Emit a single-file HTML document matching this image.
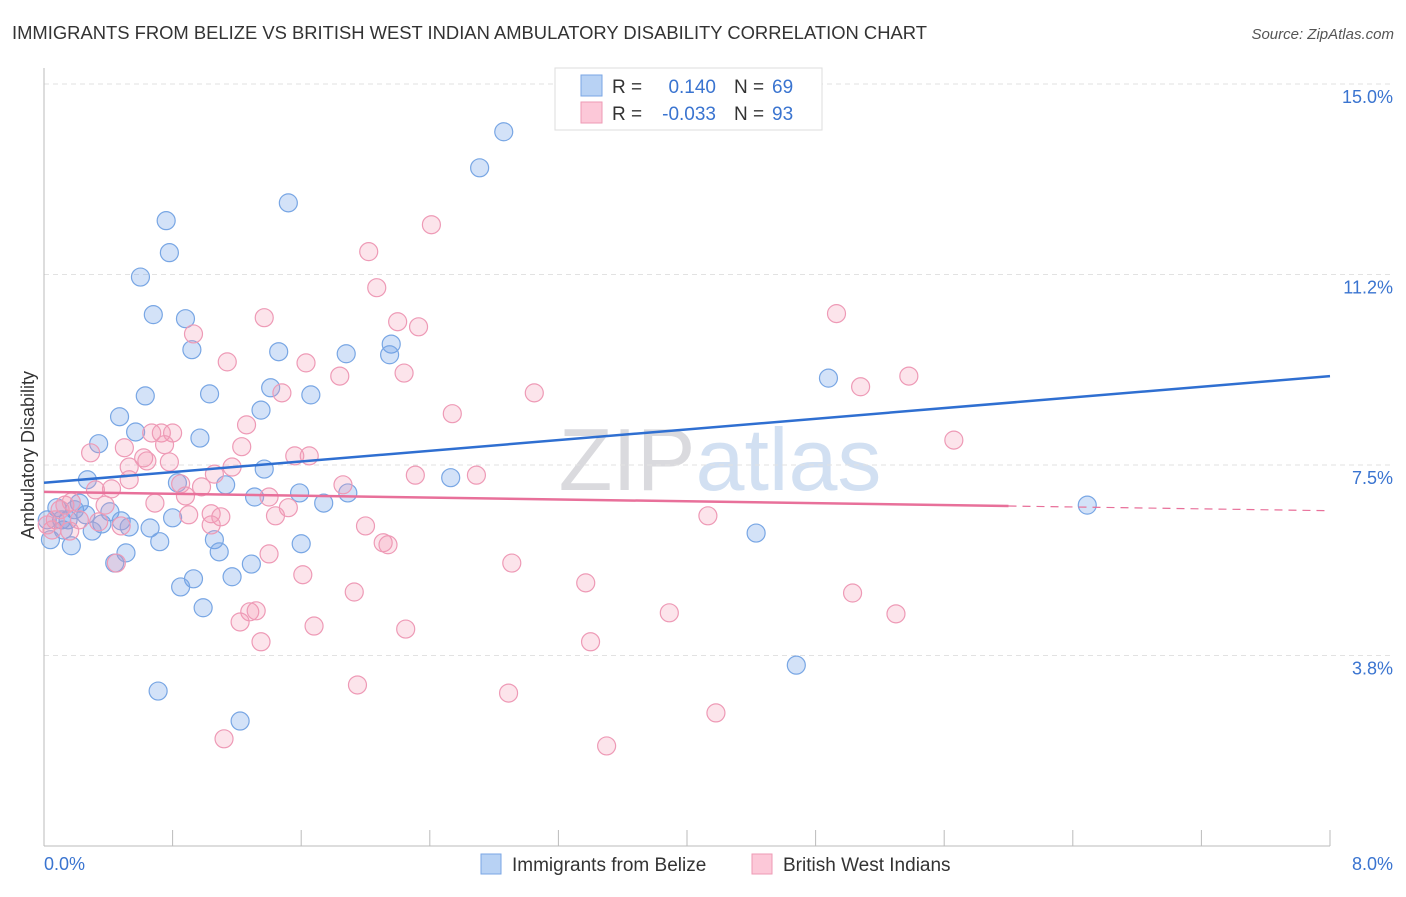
<!DOCTYPE html>
<html><head><meta charset="utf-8"><style>
body{margin:0;background:#fff;font-family:"Liberation Sans",sans-serif}
svg text{font-family:"Liberation Sans",sans-serif}
</style></head><body>
<svg id="chart" width="1406" height="892" viewBox="0 0 1406 892" xmlns="http://www.w3.org/2000/svg">
<text x="12" y="39" font-size="18.4" fill="#333">IMMIGRANTS FROM BELIZE VS BRITISH WEST INDIAN AMBULATORY DISABILITY CORRELATION CHART</text>
<text x="1394" y="39" font-size="15" fill="#555" text-anchor="end" font-style="italic">Source: ZipAtlas.com</text>
<text x="720" y="490" font-size="88" fill="#dcdce0" text-anchor="middle" font-family="Liberation Serif"><tspan fill="#dadade">ZIP</tspan><tspan fill="#d2e0f2" font-family="Liberation Sans">atlas</tspan></text>
<g id="grid"></g>
<g id="axes"></g>
<text transform="translate(34,455) rotate(-90)" font-size="18" fill="#333" text-anchor="middle">Ambulatory Disability</text>
<g id="pts"></g>
<g id="lines"></g>
<g>
<rect x="555" y="68" width="267" height="62" fill="#fff" stroke="#ddd"/>
<rect x="581" y="75" width="21" height="21" fill="#b8d2f4" stroke="#7aa6e4"/>
<rect x="581" y="102" width="21" height="21" fill="#fcc8d8" stroke="#ee9ab4"/>
<text x="612" y="93" font-size="19" fill="#333">R =</text>
<text x="716" y="93" font-size="19" fill="#3a74d0" text-anchor="end">0.140</text>
<text x="734" y="93" font-size="19" fill="#333">N =</text>
<text x="772" y="93" font-size="19" fill="#3a74d0">69</text>
<text x="612" y="120" font-size="19" fill="#333">R =</text>
<text x="716" y="120" font-size="19" fill="#3a74d0" text-anchor="end">-0.033</text>
<text x="734" y="120" font-size="19" fill="#333">N =</text>
<text x="772" y="120" font-size="19" fill="#3a74d0">93</text>
</g>
<g>
<rect x="481" y="854" width="20" height="20" fill="#b8d2f4" stroke="#7aa6e4"/>
<text x="512" y="871" font-size="19" fill="#333">Immigrants from Belize</text>
<rect x="752" y="854" width="20" height="20" fill="#fcc8d8" stroke="#ee9ab4"/>
<text x="783" y="871" font-size="19" fill="#333">British West Indians</text>
</g>
</svg>
<script>
const yTicks=[3.75,7.5,11.25,15];
const yTickLabels=["3.8%","7.5%","11.2%","15.0%"];
const xMin=0,xMax=8,yMin=0,yMax=15;
const blueX=[2.86,2.71,1.52,0.76,0.78,0.60,0.68,0.88,0.92,1.46,1.88,2.16,2.15,0.63,1.03,1.66,1.41,4.88,0.47,1.35,0.57,0.34,0.97,0.27,0.83,1.13,1.37,2.53,1.89,1.59,1.31,1.74,6.49,4.43,0.15,0.22,0.41,0.48,0.36,0.30,0.66,0.53,0.80,0.72,1.06,1.09,0.17,0.51,0.44,1.60,1.29,1.17,0.93,0.85,0.99,4.68,0.71,1.22,0.08,0.11,0.04,0.02,0.19,0.26,0.12];
const blueY=[14.06,13.35,12.66,12.31,11.68,11.20,10.46,10.38,9.77,9.73,9.69,9.88,9.67,8.86,8.90,8.88,9.02,9.21,8.45,8.58,8.15,7.92,8.03,7.21,7.15,7.11,7.42,7.25,6.95,6.95,6.87,6.75,6.71,6.16,6.42,6.75,6.58,6.40,6.34,6.20,6.26,6.28,6.46,5.99,6.03,5.79,5.91,5.77,5.57,5.95,5.55,5.30,5.26,5.10,4.69,3.56,3.05,2.46,6.66,6.42,6.03,6.42,6.62,6.52,6.22];
const pinkX=[2.41,2.02,2.07,1.37,2.20,2.33,0.93,4.93,1.14,1.63,1.84,2.24,5.38,5.08,1.48,3.05,2.54,1.26,5.66,0.67,0.73,0.80,0.50,0.75,1.23,0.29,0.62,0.64,0.53,0.78,1.17,1.56,1.65,1.06,2.31,2.69,1.86,0.53,0.85,0.98,0.42,0.32,0.88,1.40,0.17,0.38,0.69,1.52,0.90,1.04,1.10,1.44,0.22,0.34,1.04,2.00,4.13,0.48,0.16,2.11,2.14,1.40,2.91,1.61,3.37,1.93,5.03,1.28,1.32,5.30,3.89,1.22,1.68,2.25,1.35,3.40,1.95,2.89,4.18,3.50,1.12,0.45,0.10,0.07,0.05,0.02,0.13];
const pinkY=[12.23,11.70,10.99,10.40,10.32,10.22,10.08,10.48,9.53,9.51,9.25,9.31,9.25,9.04,8.92,8.92,8.51,8.29,7.99,8.13,8.13,8.13,7.84,7.90,7.86,7.74,7.64,7.58,7.46,7.56,7.46,7.68,7.68,7.32,7.30,7.30,7.11,7.21,7.13,7.07,7.03,7.01,6.89,6.87,6.77,6.71,6.75,6.66,6.52,6.54,6.48,6.50,6.42,6.38,6.32,6.30,6.50,6.30,6.20,5.97,5.93,5.75,5.57,5.34,5.18,5.00,4.98,4.61,4.63,4.57,4.59,4.41,4.33,4.27,4.02,4.02,3.17,3.01,2.62,1.97,2.11,5.57,6.62,6.42,6.22,6.32,6.71];
const blueTrend=[7.15,9.25];
const pinkTrend=[6.97,6.60];
const pinkSolidEnd=6.0;

const L=44,R=1330,T=84,B=846;
const sx=v=>L+(v-xMin)/(xMax-xMin)*(R-L);
const sy=v=>B-(v-yMin)/(yMax-yMin)*(B-T);
const NS="http://www.w3.org/2000/svg";
function mk(tag,attrs,parent){const e=document.createElementNS(NS,tag);for(const k in attrs)e.setAttribute(k,attrs[k]);parent.appendChild(e);return e;}
const grid=document.getElementById('grid'),axes=document.getElementById('axes'),pts=document.getElementById('pts'),lines=document.getElementById('lines');
yTicks.forEach((t,i)=>{
  const g=mk('line',{x1:L,x2:R+60,y1:sy(t),y2:sy(t),stroke:'#e2e2e2','stroke-dasharray':'5,4'},grid);
  
  
  const tx=mk('text',{x:1393,y:sy(t)+19,'font-size':18,fill:'#3a74d0','text-anchor':'end'},axes);
  tx.textContent=yTickLabels[i];
  
  
});
const ya=mk('line',{x1:L,x2:L,y1:68,y2:B,stroke:'#bbb'},axes);


const xa=mk('line',{x1:L,x2:R,y1:B,y2:B,stroke:'#bbb'},axes);


for(let i=0;i<=10;i++){
  const v=xMin+i*(xMax-xMin)/10;
  const tk=mk('line',{x1:sx(v),x2:sx(v),y1:B,y2:B-16,stroke:'#bbb'},axes);
  
  
}
const x0=mk('text',{x:44,y:870,'font-size':18,fill:'#3a74d0'},axes);x0.textContent='0.0%';


const x1=mk('text',{x:1393,y:870,'font-size':18,fill:'#3a74d0','text-anchor':'end'},axes);x1.textContent='8.0%';


blueX.forEach((x,i)=>{
  const c=mk('circle',{cx:sx(x),cy:sy(blueY[i]),r:9,fill:'rgba(110,160,232,0.3)',stroke:'#78a6e4','stroke-width':1.2},pts);
  
  
});
pinkX.forEach((x,i)=>{
  const c=mk('circle',{cx:sx(x),cy:sy(pinkY[i]),r:9,fill:'rgba(244,150,178,0.26)',stroke:'#ee9ab6','stroke-width':1.2},pts);
  
  
});
const bl=mk('line',{x1:sx(xMin),y1:sy(blueTrend[0]),x2:sx(xMax),y2:sy(blueTrend[1]),stroke:'#2f6fd1','stroke-width':2.5},lines);


const pm=pinkTrend[0]+(pinkTrend[1]-pinkTrend[0])*(pinkSolidEnd-xMin)/(xMax-xMin);
const pl=mk('line',{x1:sx(xMin),y1:sy(pinkTrend[0]),x2:sx(pinkSolidEnd),y2:sy(pm),stroke:'#e8709a','stroke-width':2.5},lines);


const pd=mk('line',{x1:sx(pinkSolidEnd),y1:sy(pm),x2:sx(xMax),y2:sy(pinkTrend[1]),stroke:'#e8709a','stroke-width':1.2,'stroke-dasharray':'8,6'},lines);


</script>
</body></html>
